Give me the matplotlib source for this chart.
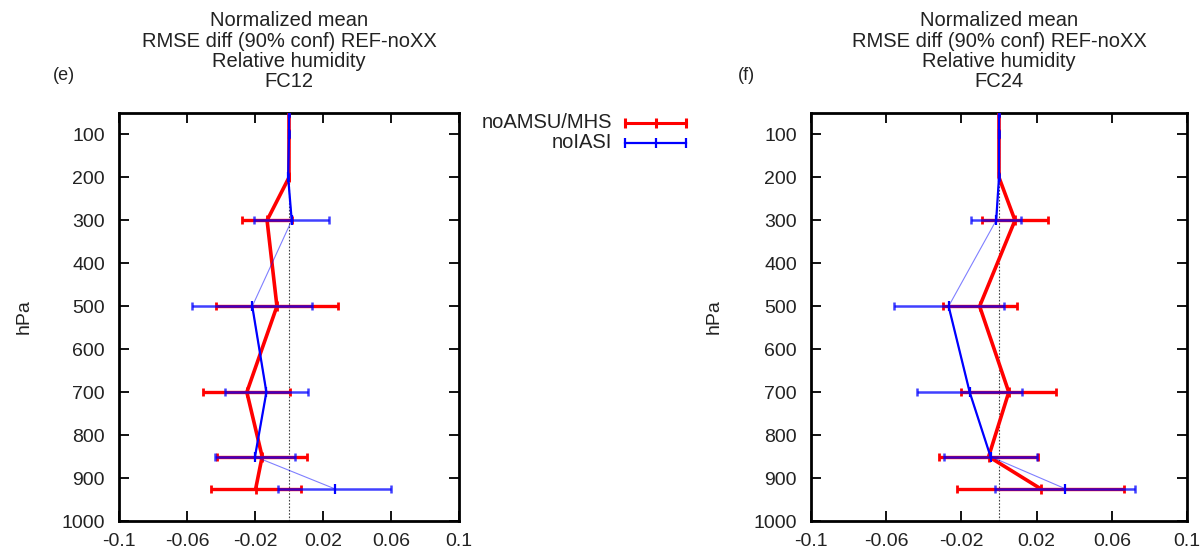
import matplotlib
matplotlib.use("Agg")
import matplotlib.pyplot as plt
from matplotlib.lines import Line2D

plt.rcParams['font.family'] = ['Liberation Sans', 'DejaVu Sans']

# pressure levels (hPa)
levels = [50, 100, 200, 300, 500, 700, 850, 925]

# FC12 normalized RMSE differences and 90% half-widths
fc12_noamsu = [0.0, 0.0, 0.0, -0.0129, -0.0071, -0.0248, -0.0158, -0.0196]
fc12_noamsu_err = [0.0, 0.0, 0.0, 0.0147, 0.0360, 0.0256, 0.0265, 0.0264]
fc12_noiasi = [0.0, 0.0, -0.0005, 0.0016, -0.0216, -0.0133, -0.0200, 0.0269]
fc12_noiasi_err = [0.0, 0.0, 0.0, 0.0220, 0.0353, 0.0243, 0.0235, 0.0333]

# FC24
fc24_noamsu = [0.0, 0.0, 0.0, 0.0085, -0.0103, 0.0052, -0.0055, 0.0222]
fc24_noamsu_err = [0.0, 0.0, 0.0, 0.0178, 0.0197, 0.0253, 0.0265, 0.0444]
fc24_noiasi = [0.0, 0.0, 0.0, -0.0015, -0.0268, -0.0156, -0.0045, 0.0353]
fc24_noiasi_err = [0.0, 0.0, 0.0, 0.0133, 0.0292, 0.0280, 0.0248, 0.0372]

# connected groups for the bold noIASI line
noiasi_groups = [0, 0, 0, 0, 1, 1, 1, 2]

xticks = [-0.1, -0.06, -0.02, 0.02, 0.06, 0.1]
xticklabels = ['-0.1', '-0.06', '-0.02', '0.02', '0.06', '0.1']
yticks = [100, 200, 300, 400, 500, 600, 700, 800, 900, 1000]

title_lines = ['Normalized mean', 'RMSE diff (90% conf) REF-noXX', 'Relative humidity']

RED = '#ff0000'
BLUE = '#0000ff'
TXT = '#222222'
W, H = 1204, 555

fig = plt.figure(figsize=(W / 100, H / 100), dpi=100)


def px(x, y):
    return x / W, 1 - y / H


def panel(rect, amsu, amsu_err, iasi, iasi_err, fc, tag, tag_x, ylab_x):
    ax = fig.add_axes(rect)
    ax.set_xlim(-0.1, 0.1)
    ax.set_ylim(1000, 50)
    ax.axvline(0, color='#444444', lw=0.8, ls=(0, (1.5, 1.5)), zorder=1)

    # noAMSU/MHS
    ax.errorbar(amsu, levels, xerr=amsu_err, fmt='none', ecolor=RED,
                elinewidth=2.4, capsize=3, capthick=2, zorder=2)
    ax.plot(amsu, levels, color=RED, lw=2.6, zorder=3)
    ax.plot(amsu, levels, ls='none', marker='|', ms=7, mew=2, color=RED, zorder=3)

    # noIASI
    ax.errorbar(iasi, levels, xerr=iasi_err, fmt='none', ecolor=BLUE,
                elinewidth=1.8, capsize=3, capthick=1.8, alpha=0.75, zorder=4)
    ax.plot(iasi, levels, color=BLUE, lw=0.8, alpha=0.5, zorder=4)
    for g in sorted(set(noiasi_groups)):
        xs = [v for v, k in zip(iasi, noiasi_groups) if k == g]
        ys = [p for p, k in zip(levels, noiasi_groups) if k == g]
        ax.plot(xs, ys, color=BLUE, lw=1.6, zorder=5)
    ax.plot(iasi, levels, ls='none', marker='|', ms=7, mew=1.6, color=BLUE, zorder=5)

    ax.set_xticks(xticks)
    ax.set_xticklabels(xticklabels)
    ax.set_yticks(yticks)
    ax.tick_params(direction='in', length=7, width=1.3, top=True, right=True,
                   labelsize=14, colors='black', labelcolor=TXT)
    ax.tick_params(axis='y', pad=10)
    ax.tick_params(axis='x', pad=9)
    for s in ax.spines.values():
        s.set_linewidth(2)

    cx = (rect[0] + rect[2] / 2)
    for i, line in enumerate(title_lines + [fc]):
        fig.text(cx, 1 - (21 + 20.3 * i) / H, line, ha='center', va='center',
                 fontsize=14.5, color=TXT)
    fig.text(*px(tag_x, 75), tag, ha='center', va='center', fontsize=13, color=TXT)
    fig.text(*px(ylab_x, 317), 'hPa', rotation=90, ha='center', va='center',
             fontsize=14, color=TXT)
    return ax


panel([119 / W, 1 - 521 / H, 340 / W, 408 / H],
      fc12_noamsu, fc12_noamsu_err, fc12_noiasi, fc12_noiasi_err,
      'FC12', '(e)', 64, 24)
panel([811 / W, 1 - 521 / H, 376 / W, 408 / H],
      fc24_noamsu, fc24_noamsu_err, fc24_noiasi, fc24_noiasi_err,
      'FC24', '(f)', 746, 714)

# legend between the panels
for label, color, y, lw in [('noAMSU/MHS', RED, 123, 2.2), ('noIASI', BLUE, 143, 1.6)]:
    fig.text(*px(612, y), label, ha='right', va='center', fontsize=14.5, color=TXT)
    x0, y0 = px(625, y)
    x1, _ = px(686, y)
    fig.add_artist(Line2D([x0, (x0 + x1) / 2, x1], [y0, y0, y0], color=color,
                          lw=lw, marker='|', ms=7, mew=lw,
                          transform=fig.transFigure))

fig.savefig('out.png', dpi=100)
